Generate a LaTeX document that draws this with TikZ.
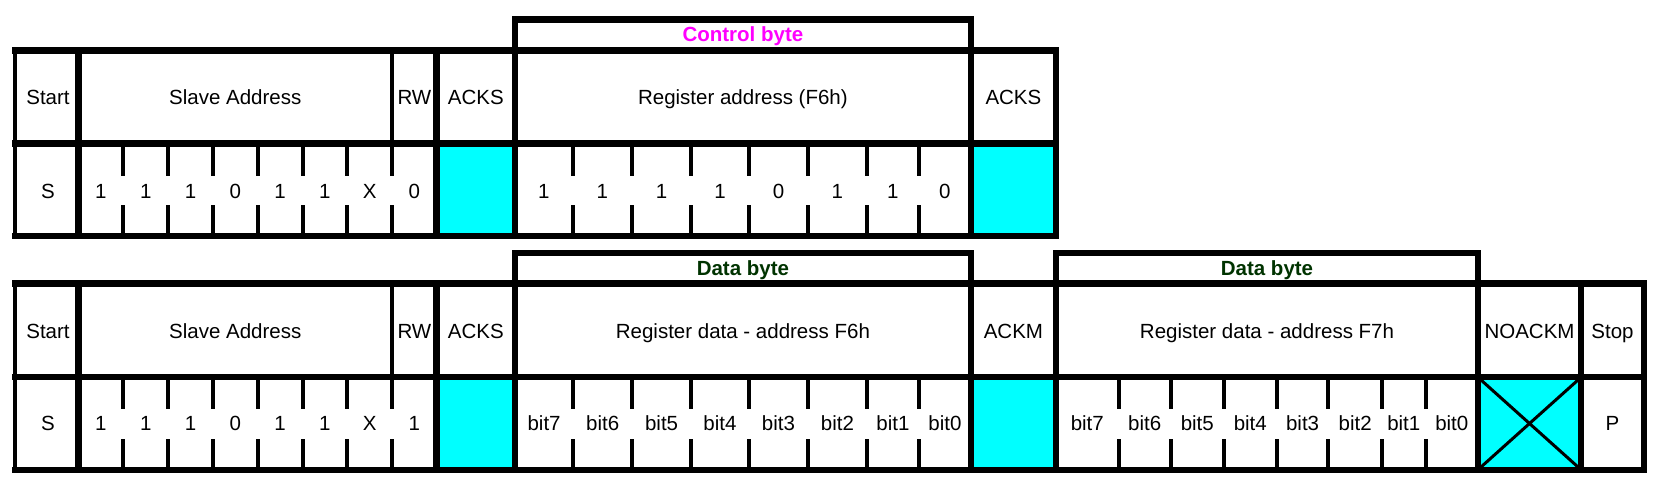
\documentclass[tikz,border=0pt]{standalone}
\usepackage{fontspec}
\setmainfont{Liberation Sans}
\definecolor{ackcyan}{RGB}{0,255,255}
\definecolor{hdrmag}{RGB}{255,0,255}
\definecolor{hdrgreen}{RGB}{0,51,0}
\begin{document}
\begin{tikzpicture}[x=1pt,y=-1pt,
  thk/.style={line width=6.5pt},
  thkh/.style={line width=6.5pt,line cap=rect},
  thn/.style={line width=4pt},
  lbl/.style={inner sep=0pt,anchor=base,font=\fontsize{20.5}{24}\selectfont},
  hdr/.style={inner sep=0pt,anchor=base,font=\fontsize{20.5}{24}\selectfont\bfseries},
  ackfill/.style={fill=ackcyan},
  crossline/.style={line width=3pt}]
\useasboundingbox (0,0) rectangle (1662,489);
\def\yCa{19.3}\def\yTa{50.3}\def\yMa{143.6}\def\yBa{236.2}
\def\yCb{252.8}\def\yTb{283.5}\def\yMb{377}\def\yBb{470}
% ---------- fills ----------
\fill[ackfill] (436.7,\yMa) rectangle (515,\yBa);
\fill[ackfill] (970.8,\yMa) rectangle (1056,\yBa);
\fill[ackfill] (436.7,\yMb) rectangle (515,\yBb);
\fill[ackfill] (970.8,\yMb) rectangle (1056,\yBb);
\fill[ackfill] (1478,\yMb) rectangle (1581,\yBb);
\draw[crossline] (1481,\yMb+3) -- (1578,\yBb-3);
\draw[crossline] (1481,\yBb-3) -- (1578,\yMb+3);
% ---------- row 1 frame ----------
\draw[thkh] (15.5,\yTa) -- (1056,\yTa);
\draw[thkh] (15.5,\yMa) -- (1056,\yMa);
\draw[thkh] (15.5,\yBa) -- (1056,\yBa);
\draw[line width=4.6pt] (15,\yTa-3.25) -- (15,\yBa+3.25);
\foreach \x in {78.5,436.7,515,970.8,1056}
  \draw[thk] (\x,\yTa) -- (\x,\yBa);
\draw[thn] (392.1,\yTa) -- (392.1,\yMa);
\foreach \x in {123.3,168.1,212.9,257.7,302.5,347.3,392.1,572.8,631.9,691,749.2,807.9,866.7,918.9}
  \draw[thn] (\x,\yMa) -- ++(0,32) (\x,\yBa) -- ++(0,-31.5);
\draw[thk] (515,\yTa) -- (515,\yCa) -- (970.8,\yCa) -- (970.8,\yTa);
% ---------- row 2 frame ----------
\draw[thkh] (15.5,\yTb) -- (1644,\yTb);
\draw[thkh] (15.5,\yMb) -- (1644,\yMb);
\draw[thkh] (15.5,\yBb) -- (1644,\yBb);
\draw[line width=4.6pt] (15,\yTb-3.25) -- (15,\yBb+3.25);
\foreach \x in {78.5,436.7,515,970.8,1056,1478,1581,1644}
  \draw[thk] (\x,\yTb) -- (\x,\yBb);
\draw[thn] (392.1,\yTb) -- (392.1,\yMb);
\foreach \x in {123.3,168.1,212.9,257.7,302.5,347.3,392.1,573.2,632.1,691,749,807.9,866.8,918.9,1118.5,1170.9,1223.7,1276.8,1328.4,1381.9,1425.6}
  \draw[thn] (\x,\yMb) -- ++(0,31.5) (\x,\yBb) -- ++(0,-31);
\draw[thk] (515,\yTb) -- (515,\yCb) -- (970.8,\yCb) -- (970.8,\yTb);
\draw[thk] (1056,\yTb) -- (1056,\yCb) -- (1478,\yCb) -- (1478,\yTb);
% ---------- row 1 texts ----------
\node[hdr,text=hdrmag] (ctrl) at (742.9,41.3) {Control byte};
\node[lbl] (a1) at (48,104.4) {Start};
\node[lbl] (a2) at (235.3,104.4) {Slave Address};
\node[lbl] (a3) at (414.4,104.4) {RW};
\node[lbl] (a4) at (475.9,104.4) {ACKS};
\node[lbl] (a5) at (742.9,104.4) {Register address (F6h)};
\node[lbl] (a6) at (1013.4,104.4) {ACKS};
\node[lbl] (as) at (48,198.3) {S};
\foreach \x/\t [count=\i] in {100.9/1,145.7/1,190.5/1,235.3/0,280.1/1,324.9/1,369.7/X,414.4/0,
  543.9/1,602.4/1,661.5/1,720.1/1,778.6/0,837.3/1,892.8/1,944.9/0}
  \node[lbl] (ab\i) at (\x,198.3) {\t};
% ---------- row 2 texts ----------
\node[hdr,text=hdrgreen] (data1) at (742.9,275) {Data byte};
\node[hdr,text=hdrgreen] (data2) at (1267,275) {Data byte};
\node[lbl] (b1) at (48,338) {Start};
\node[lbl] (b2) at (235.3,338) {Slave Address};
\node[lbl] (b3) at (414.4,338) {RW};
\node[lbl] (b4) at (475.9,338) {ACKS};
\node[lbl] (b5) at (742.9,338) {Register data - address F6h};
\node[lbl] (b6) at (1013.4,338) {ACKM};
\node[lbl] (b7) at (1267,338) {Register data - address F7h};
\node[lbl] (b8) at (1529.5,338) {NOACKM};
\node[lbl] (b9) at (1612.5,338) {Stop};
\node[lbl] (bs) at (48,430.8) {S};
\node[lbl] (bp) at (1612.5,430.8) {P};
\foreach \x/\t [count=\i] in {100.9/1,145.7/1,190.5/1,235.3/0,280.1/1,324.9/1,369.7/X,414.4/1}
  \node[lbl] (bb\i) at (\x,430.8) {\t};
\foreach \x/\t [count=\i] in {544.1/bit7,602.7/bit6,661.6/bit5,720/bit4,778.5/bit3,837.4/bit2,892.9/bit1,944.9/bit0,
  1087.3/bit7,1144.7/bit6,1197.3/bit5,1250.3/bit4,1302.6/bit3,1355.2/bit2,1403.8/bit1,1451.8/bit0}
  \node[lbl] (bd\i) at (\x,430.8) {\t};
\end{tikzpicture}
\end{document}
